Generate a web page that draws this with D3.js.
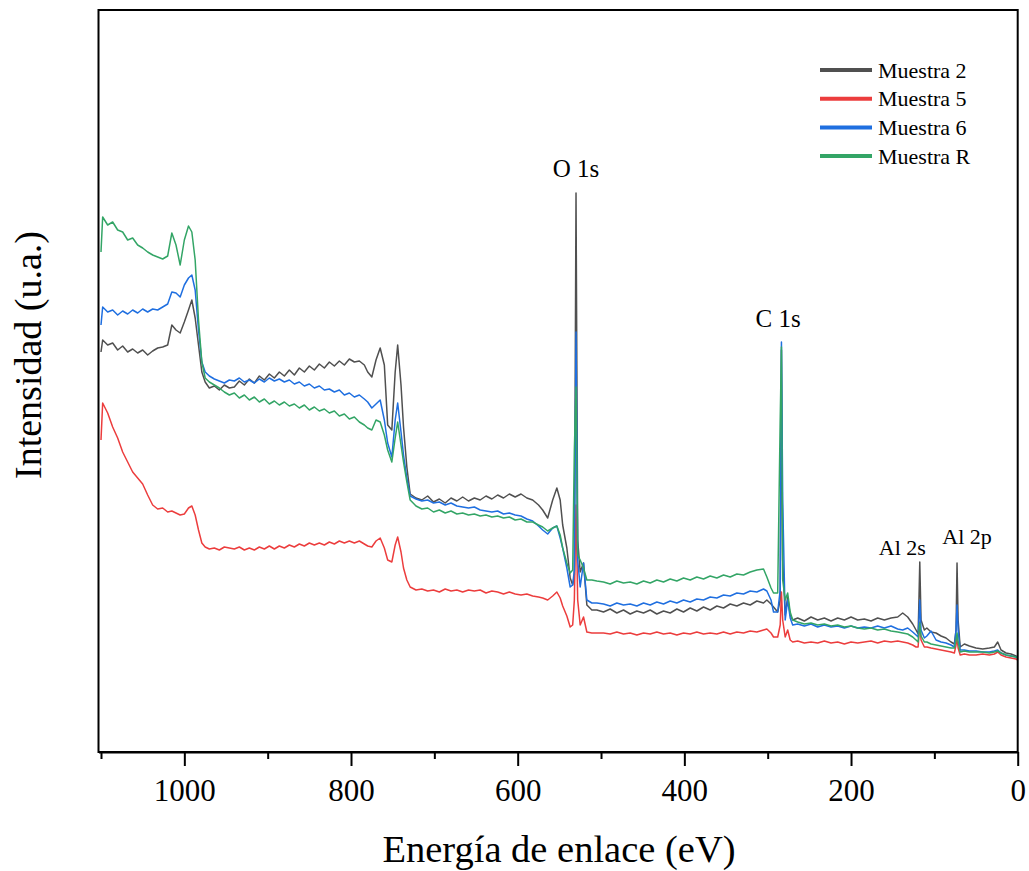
<!DOCTYPE html>
<html>
<head>
<meta charset="utf-8">
<script src="https://cdn.jsdelivr.net/npm/d3@7"></script>
<style>
  body { margin: 0; background: #fff; }
  text { font-family: "Liberation Serif", "Times New Roman", serif; fill: #000; }
</style>
</head>
<body>
<div id="chart"></div>
<script>
// binding energy (eV), high -> low
var energia = [
  1100, 1098, 1092, 1086, 1080, 1074, 1068, 1062, 1056, 1050, 1044, 1038, 1032, 1026, 1020, 1015, 1010, 1005, 1000, 995, 991, 987, 983, 979, 975, 970, 964, 958, 952, 946,
  940, 934, 928, 922, 916, 910, 904, 898, 892, 886, 880, 874, 868, 862, 856, 850, 844, 838, 832, 826, 820, 814, 808, 802, 796, 790, 784, 780, 775, 770, 765, 760, 756, 751, 747, 744, 740, 737, 733, 729,
  722, 715, 708, 701, 694, 687, 680, 673, 666, 659, 652, 645, 638, 631, 624, 617, 610, 603, 596, 589, 582, 575, 570, 564, 558, 553, 549, 546, 541, 537, 534, 532, 530, 528, 525, 521, 517, 511, 505,
  497, 489, 481, 473, 465, 457, 449, 441, 433, 425, 417, 409, 401, 393, 385, 377, 369, 361, 353, 345, 337, 329, 321, 313, 305, 301, 296, 293, 288, 285, 283.5, 282, 279, 276, 273, 270,
  264, 256, 248, 240, 232, 224, 216, 208, 200, 192, 184, 176, 168, 160, 152, 144, 138, 132, 126, 122, 119.5, 118.5, 117.5, 116, 112, 109, 104, 98, 92, 86, 80, 76, 74, 72.8, 71.5, 69, 64, 58, 50, 42, 34, 28, 24, 20, 14, 8, 2, 0
];

// intensities (u.a.)
var muestra2 = [
  400, 412, 407, 409, 402, 406, 400, 403, 399, 402, 397, 401, 404, 405, 407, 427, 422, 419, 430, 442, 452, 434, 407, 380, 370, 364, 366, 362, 367, 364,
  365, 371, 367, 373, 369, 376, 372, 378, 374, 380, 376, 382, 377, 384, 380, 386, 382, 388, 384, 390, 386, 391, 387, 393, 390, 391, 387, 380, 375, 392, 404, 387, 327, 322, 380, 407, 367, 325, 285, 258,
  254, 252, 256, 250, 253, 249, 254, 251, 255, 251, 254, 252, 256, 253, 257, 254, 258, 255, 258, 254, 252, 247, 242, 234, 252, 264, 252, 227, 204, 174, 167, 177, 559, 212, 180, 189, 147, 142, 142,
  140, 143, 139, 142, 138, 141, 139, 142, 138, 141, 139, 143, 140, 144, 141, 145, 142, 146, 144, 148, 146, 149, 147, 151, 149, 152, 148, 145, 140, 152, 402, 192, 137, 155, 137, 132,
  134, 131, 135, 132, 134, 131, 134, 132, 135, 132, 133, 131, 134, 132, 134, 135, 139, 135, 128, 122, 118, 152, 190, 132, 122, 124, 120, 119, 116, 114, 110, 108, 122, 189, 132, 105, 108, 106, 104, 103, 104, 105, 110, 102, 99, 98, 96, 94
];
var muestra5 = [
  312, 349, 339, 325, 314, 300, 290, 280, 274, 268, 257, 247, 243, 244, 240, 241, 239, 237, 238, 244, 246, 237, 222, 209, 205, 203, 204, 202, 205, 204,
  203, 205, 202, 204, 202, 205, 203, 206, 203, 206, 204, 207, 205, 208, 206, 209, 207, 209, 207, 210, 208, 211, 209, 211, 209, 211, 208, 206, 205, 211, 214, 204, 192, 190, 207, 215, 200, 184, 172, 165,
  162, 163, 161, 162, 160, 163, 161, 162, 160, 162, 161, 162, 159, 161, 160, 158, 160, 158, 157, 158, 156, 155, 154, 152, 156, 160, 154, 146, 136, 125, 127, 152, 247, 152, 127, 135, 120, 119, 119,
  119, 118, 120, 118, 119, 117, 119, 118, 120, 118, 119, 117, 119, 118, 120, 118, 119, 118, 120, 118, 120, 119, 121, 120, 122, 123, 119, 115, 115, 127, 160, 132, 115, 122, 112, 110,
  111, 109, 110, 109, 111, 109, 110, 108, 110, 109, 110, 111, 109, 111, 110, 111, 110, 109, 107, 105, 105, 117, 130, 112, 105, 105, 104, 103, 102, 101, 100, 99, 107, 115, 104, 97, 98, 97, 97, 98, 97, 98, 100, 97, 95, 94, 93, 92
];
var muestra6 = [
  427, 445, 440, 442, 437, 441, 438, 442, 439, 443, 440, 443, 442, 445, 448, 460, 459, 455, 467, 474, 477, 462, 422, 390, 380, 376, 373, 371, 369, 372,
  371, 374, 370, 372, 369, 373, 370, 374, 371, 373, 370, 372, 368, 370, 366, 368, 364, 366, 362, 363, 360, 362, 357, 359, 355, 357, 353, 350, 344, 348, 352, 332, 309, 295, 332, 349, 320, 297, 274, 256,
  253, 251, 252, 249, 250, 247, 249, 246, 245, 244, 245, 242, 241, 240, 241, 238, 239, 237, 236, 233, 231, 226, 222, 218, 224, 226, 214, 204, 184, 165, 167, 182, 420, 192, 165, 189, 152, 149, 149,
  148, 146, 149, 147, 148, 146, 149, 147, 150, 148, 151, 149, 152, 150, 153, 152, 155, 154, 157, 156, 159, 158, 161, 160, 163, 161, 152, 140, 140, 162, 410, 252, 132, 152, 134, 127,
  128, 126, 128, 125, 127, 125, 126, 124, 126, 124, 125, 124, 126, 124, 126, 123, 122, 124, 120, 117, 115, 132, 152, 122, 114, 116, 121, 112, 110, 109, 107, 105, 122, 147, 122, 102, 102, 101, 101, 100, 100, 101, 102, 99, 97, 96, 95, 94
];
var muestraR = [
  500, 535, 527, 530, 522, 520, 512, 514, 507, 504, 500, 497, 495, 493, 496, 519, 507, 487, 512, 526, 520, 492, 432, 390, 374, 370, 367, 364, 360, 357,
  359, 354, 357, 352, 355, 350, 353, 348, 351, 347, 350, 346, 348, 344, 347, 342, 345, 341, 343, 339, 341, 336, 338, 333, 335, 330, 327, 324, 322, 332, 330, 317, 302, 290, 314, 330, 307, 290, 270, 252,
  246, 243, 244, 240, 242, 239, 241, 238, 239, 237, 238, 236, 237, 235, 236, 234, 235, 232, 233, 230, 230, 227, 225, 221, 224, 226, 217, 204, 189, 179, 182, 302, 365, 197, 192, 184, 172, 172, 171,
  170, 168, 171, 169, 170, 168, 171, 169, 172, 170, 173, 171, 174, 172, 175, 173, 176, 174, 177, 175, 178, 177, 180, 182, 183, 175, 164, 159, 159, 332, 405, 172, 152, 159, 140, 132,
  130, 128, 129, 127, 128, 126, 127, 125, 126, 124, 123, 124, 122, 123, 121, 120, 119, 118, 115, 112, 110, 120, 129, 116, 110, 110, 108, 107, 106, 105, 104, 104, 112, 119, 110, 100, 101, 100, 100, 100, 99, 100, 101, 99, 97, 96, 95, 94
];

var nombres = ["Muestra 2", "Muestra 5", "Muestra 6", "Muestra R"];
var colores = ["#505050", "#ec3d3d", "#1f6fe0", "#33a566"];

var majorTicks = [1000, 800, 600, 400, 200, 0];
var minorTicks = [1100, 900, 700, 500, 300, 100];

// peak labels
var picos = ["O 1s", "C 1s", "Al 2s", "Al 2p"];
var picosE = [530, 285, 118, 74];

var svgWidth = 1029, svgHeight = 871;
var margin = { top: 10, right: 11.3, bottom: 119, left: 98.5 };
var width = svgWidth - margin.left - margin.right;
var height = svgHeight - margin.top - margin.bottom;

var svg = d3.select("#chart").append("svg")
  .attr("width", svgWidth)
  .attr("height", svgHeight);

var chartGroup = svg.append("g")
  .attr("transform", `translate(${margin.left}, ${margin.top})`);

var x = d3.scaleLinear().domain([1103, 0]).range([0, width]);
var y = d3.scaleLinear().domain([0, 742]).range([height, 0]);

var series = [muestra2, muestra5, muestra6, muestraR];

var line = d3.line()
  .x(d => x(d[0]))
  .y(d => y(d[1]));

chartGroup.append("clipPath").attr("id", "clip")
  .append("rect").attr("width", width).attr("height", height);

series.forEach(function(s, i) {
  var pts = energia.map((e, k) => [e, s[k]]);
  chartGroup.append("path")
    .datum(pts)
    .attr("clip-path", "url(#clip)")
    .attr("fill", "none")
    .attr("stroke", colores[i])
    .attr("stroke-width", 1.5)
    .attr("stroke-linejoin", "round")
    .attr("d", line);
});

// frame
chartGroup.append("rect")
  .attr("width", width)
  .attr("height", height)
  .attr("fill", "none")
  .attr("stroke", "#000")
  .attr("stroke-width", 2);

// x axis
var xAxis = chartGroup.append("g")
  .attr("transform", `translate(0, ${height})`)
  .call(d3.axisBottom(x).tickValues(majorTicks).tickSize(14).tickSizeOuter(0).tickFormat(d3.format("d")));
xAxis.select(".domain").attr("stroke-width", 2);
xAxis.selectAll(".tick line").attr("stroke-width", 2);
xAxis.selectAll(".tick text")
  .attr("y", 49).attr("dy", null)
  .style("font-size", "31px")
  .style("font-family", "Liberation Serif");

var xMinor = chartGroup.append("g")
  .attr("transform", `translate(0, ${height})`)
  .call(d3.axisBottom(x).tickValues(minorTicks).tickSize(7).tickSizeOuter(0).tickFormat(""));
xMinor.select(".domain").remove();
xMinor.selectAll(".tick line").attr("stroke-width", 2);

// axis titles
svg.append("text")
  .attr("x", 559).attr("y", 862)
  .attr("text-anchor", "middle")
  .style("font-size", "38.5px")
  .text("Energía de enlace (eV)");

svg.append("text")
  .attr("transform", "translate(41, 355) rotate(-90)")
  .attr("text-anchor", "middle")
  .style("font-size", "38px")
  .text("Intensidad (u.a.)");

// peak annotations
var picoY = [177, 327, 555, 544];
var picoSize = [25, 25, 22, 22];
var picoX = [0, -2, -17, 11];
picos.forEach(function(p, i) {
  chartGroup.append("text")
    .attr("x", x(picosE[i]) + picoX[i])
    .attr("y", picoY[i] - margin.top)
    .attr("text-anchor", "middle")
    .style("font-size", picoSize[i] + "px")
    .text(p);
});

// legend
var legend = svg.append("g").attr("transform", "translate(820, 70)");
nombres.forEach(function(n, i) {
  legend.append("line")
    .attr("x1", 0).attr("x2", 52)
    .attr("y1", i * 28.7).attr("y2", i * 28.7)
    .attr("stroke", colores[i])
    .attr("stroke-width", 4);
  legend.append("text")
    .attr("x", 58).attr("y", i * 28.7 + 7.5)
    .style("font-size", "22px")
    .text(n);
});
</script>
</body>
</html>
